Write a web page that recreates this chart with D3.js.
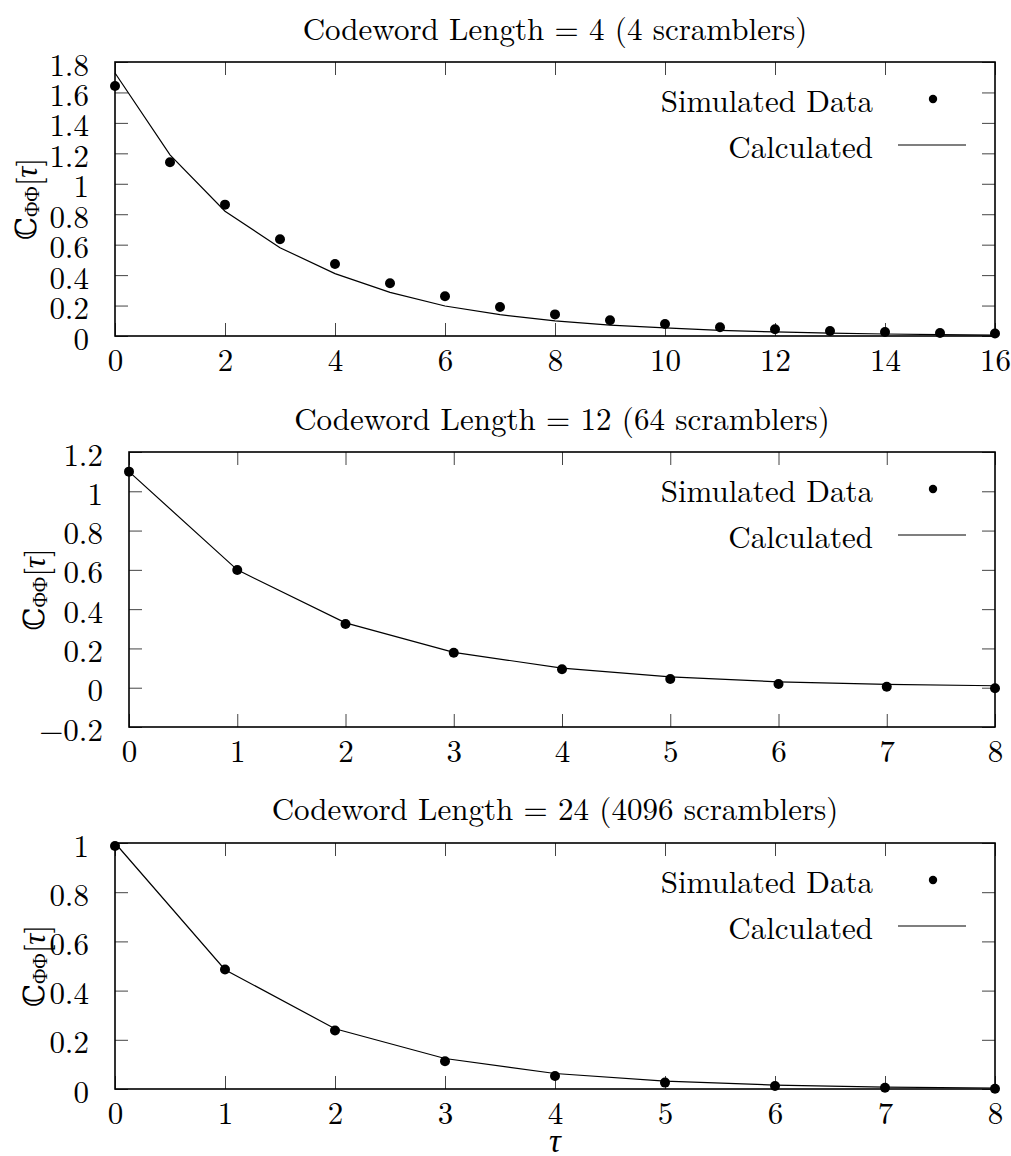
<!DOCTYPE html>
<html>
<head>
<meta charset="utf-8">
<script src="https://cdn.jsdelivr.net/npm/d3@7"></script>
<style>
  body { margin: 0; background: #fff; }
</style>
</head>
<body>
<svg id="chart" width="1011" height="1156"></svg>
<script>
// lag values (tau) and correlation values
const lagsA = [0, 1, 2, 3, 4, 5, 6, 7, 8, 9, 10, 11, 12, 13, 14, 15, 16]
const simA = [1.642, 1.141, 0.863, 0.635, 0.473, 0.346, 0.261, 0.19, 0.142, 0.103, 0.079, 0.057, 0.044, 0.033, 0.026, 0.02, 0.017]
const calcA = [1.728, 1.19, 0.82, 0.58, 0.41, 0.287, 0.197, 0.14, 0.099, 0.072, 0.053, 0.037, 0.027, 0.019, 0.013, 0.009, 0.006]

const lagsB = [0, 1, 2, 3, 4, 5, 6, 7, 8]
const simB = [1.10, 0.599, 0.324, 0.178, 0.094, 0.044, 0.019, 0.005, -0.003]
const calcB = [1.10, 0.60, 0.33, 0.18, 0.10, 0.055, 0.03, 0.017, 0.01]

const lagsC = [0, 1, 2, 3, 4, 5, 6, 7, 8]
const simC = [0.988, 0.486, 0.238, 0.113, 0.053, 0.026, 0.012, 0.005, 0.001]
const calcC = [1.0, 0.485, 0.245, 0.124, 0.063, 0.032, 0.016, 0.008, 0.004]

const xTicksA = [0, 2, 4, 6, 8, 10, 12, 14, 16]
const xTicksBC = [0, 1, 2, 3, 4, 5, 6, 7, 8]
const yTicksA = [0, 0.2, 0.4, 0.6, 0.8, 1, 1.2, 1.4, 1.6, 1.8]
const yTicksB = [-0.2, 0, 0.2, 0.4, 0.6, 0.8, 1, 1.2]
const yTicksC = [0, 0.2, 0.4, 0.6, 0.8, 1]

const titles = [
    "Codeword Length = 4 (4 scramblers)",
    "Codeword Length = 12 (64 scramblers)",
    "Codeword Length = 24 (4096 scramblers)"
]
const legendLabels = ["Simulated Data", "Calculated"]

const svg = d3.select("#chart")
const lmFont = "'Latin Modern Roman', 'Liberation Serif'"
const greekFont = "'Liberation Serif', 'DejaVu Serif'"
const fontSize = 31
const tickLen = 13

function fmt(d) {
    const s = String(+d.toFixed(1))
    return s.replace("-", "\u2212")
}

function label(sel) {
    return sel.style("font-family", lmFont).style("font-size", fontSize + "px").attr("fill", "#000")
}

function drawPanel(p) {
    const x = d3.scaleLinear().domain(p.xDomain).range([p.left, p.right])
    const y = d3.scaleLinear().domain(p.yDomain).range([p.bottom, p.top])
    const g = svg.append("g")

    // title
    g.append("text")
        .attr("x", (p.left + p.right) / 2)
        .attr("y", p.titleY)
        .attr("text-anchor", "middle")
        .attr("dominant-baseline", "central")
        .call(label)
        .text(p.title)

    // axes, ticks pointing inward on all four sides
    const axes = [
        { ax: d3.axisBottom(x).tickValues(p.xTicks).tickFormat(fmt), t: "translate(0," + p.bottom + ")" },
        { ax: d3.axisTop(x).tickValues(p.xTicks).tickFormat(""), t: "translate(0," + p.top + ")" },
        { ax: d3.axisLeft(y).tickValues(p.yTicks).tickFormat(fmt), t: "translate(" + p.left + ",0)" },
        { ax: d3.axisRight(y).tickValues(p.yTicks).tickFormat(""), t: "translate(" + p.right + ",0)" }
    ]
    axes.forEach((a, i) => {
        const ag = g.append("g")
            .attr("transform", a.t)
            .call(a.ax.tickSize(-tickLen).tickPadding(i < 2 ? 15 : 26))
        ag.attr("font-family", null).attr("font-size", null)
        ag.select(".domain").remove()
        ag.selectAll(".tick line").attr("stroke", "#444").attr("stroke-width", 1)
        ag.selectAll("text").call(label)
        if (i == 0) ag.selectAll("text").attr("dy", null).attr("y", 22).attr("dominant-baseline", "central")
        if (i == 2) ag.selectAll("text").attr("dy", null).attr("dominant-baseline", "central")
    })

    // frame
    g.append("rect")
        .attr("x", p.left)
        .attr("y", p.top)
        .attr("width", p.right - p.left)
        .attr("height", p.bottom - p.top)
        .attr("fill", "none")
        .attr("stroke", "#000")
        .attr("stroke-width", 1.6)

    // calculated curve
    const line = d3.line()
        .x((d, i) => x(p.lags[i]))
        .y(d => y(d))
    g.append("path")
        .datum(p.calc)
        .attr("d", line)
        .attr("fill", "none")
        .attr("stroke", "#000")
        .attr("stroke-width", 1.2)

    // simulated points
    g.selectAll(".dot")
        .data(p.sim)
        .enter()
        .append("circle")
        .attr("cx", (d, i) => x(p.lags[i]))
        .attr("cy", d => y(d))
        .attr("r", 5)
        .attr("fill", "#000")

    // y label  C_{ΦΦ}[τ]
    const yl = g.append("text")
        .attr("transform", "translate(" + p.yLabelX + "," + (p.top + p.bottom) / 2 + ") rotate(-90)")
        .attr("text-anchor", "middle")
        .attr("dominant-baseline", "central")
        .call(label)
    yl.append("tspan").style("font-family", "'DejaVu Serif'").style("font-size", "29px").text("\u2102")
    yl.append("tspan").attr("dy", 6).style("font-family", greekFont).style("font-size", "21px").text("\u03A6\u03A6")
    yl.append("tspan").attr("dy", -6).text("[")
    yl.append("tspan").style("font-family", greekFont).style("font-style", "italic").text("\u03C4")
    yl.append("tspan").text("]")

    // legend
    const rowY = [p.top + 37, p.top + 83]
    legendLabels.forEach((lab, i) => {
        g.append("text")
            .attr("x", p.right - 122)
            .attr("y", rowY[i])
            .attr("text-anchor", "end")
            .attr("dominant-baseline", "central")
            .call(label)
            .text(lab)
    })
    g.append("circle")
        .attr("cx", p.right - 62)
        .attr("cy", rowY[0])
        .attr("r", 4.2)
        .attr("fill", "#000")
    g.append("line")
        .attr("x1", p.right - 97)
        .attr("x2", p.right - 29)
        .attr("y1", rowY[1])
        .attr("y2", rowY[1])
        .attr("stroke", "#000")
        .attr("stroke-width", 1.2)
}

drawPanel({ title: titles[0], titleY: 27, left: 115, right: 995, top: 62, bottom: 336,
    xDomain: [0, 16], yDomain: [0, 1.8], xTicks: xTicksA, yTicks: yTicksA,
    lags: lagsA, sim: simA, calc: calcA, yLabelX: 26 })
drawPanel({ title: titles[1], titleY: 417, left: 129, right: 995, top: 452, bottom: 727,
    xDomain: [0, 8], yDomain: [-0.2, 1.2], xTicks: xTicksBC, yTicks: yTicksB,
    lags: lagsB, sim: simB, calc: calcB, yLabelX: 34 })
drawPanel({ title: titles[2], titleY: 807, left: 115, right: 995, top: 843, bottom: 1089,
    xDomain: [0, 8], yDomain: [0, 1], xTicks: xTicksBC, yTicks: yTicksC,
    lags: lagsC, sim: simC, calc: calcC, yLabelX: 34 })

// x axis label
svg.append("text")
    .attr("x", 555)
    .attr("y", 1152)
    .attr("text-anchor", "middle")
    .call(label)
    .style("font-family", greekFont)
    .style("font-size", "33px")
    .style("font-style", "italic")
    .text("\u03C4")
</script>
</body>
</html>
